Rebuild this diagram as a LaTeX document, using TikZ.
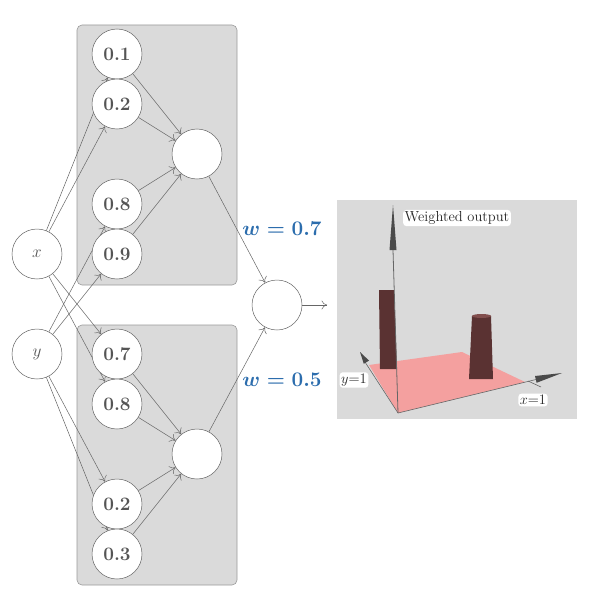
\documentclass[tikz,border=0pt]{standalone}
\usepackage{amsmath,amsfonts,amssymb}
\usepackage{tikz}
\usetikzlibrary{arrows.meta,positioning}

\definecolor{boxgray}{HTML}{DADADA}
\definecolor{edgegray}{HTML}{9A9A9A}
\definecolor{linegray}{HTML}{666666}
\definecolor{textgray}{HTML}{555555}
\definecolor{wblue}{HTML}{2C6DAD}
\definecolor{floorred}{HTML}{F4A09F}
\definecolor{barbrown}{HTML}{5A3232}
\definecolor{conegray}{HTML}{4A4A4A}

\pgfdeclarelayer{back}
\pgfdeclarelayer{wires}
\pgfsetlayers{back,wires,main}

\begin{document}
\begin{tikzpicture}[
  x=1pt, y=-1pt,
  neuron/.style={draw=linegray, circle, fill=white, minimum size=50pt, inner sep=0pt, line width=0.5pt, text=textgray, font=\fontsize{19}{22}\selectfont\bfseries},
  wire/.style={draw=linegray, line width=0.5pt, -{To[length=5.5pt,width=9pt]}},
  tower/.style={draw=edgegray, fill=boxgray, rounded corners=5pt, line width=0.6pt},
  weight/.style={text=wblue, font=\fontsize{21.5}{24}\selectfont\boldmath},
  tag/.style={fill=white, rounded corners=3pt, inner sep=1.5pt, text=black!85, font=\fontsize{14.5}{16}\selectfont}
]
\useasboundingbox (0,0) rectangle (599,610);

% inputs
\node[neuron, font=\fontsize{19}{22}\selectfont] (x) at (37,254) {$x$};
\node[neuron, font=\fontsize{19}{22}\selectfont] (y) at (37,354) {$y$};

% upper tower
\node[neuron] (t1) at (117,54) {0.1};
\node[neuron] (t2) at (117,104) {0.2};
\node[neuron] (t3) at (117,204) {0.8};
\node[neuron] (t4) at (117,254) {0.9};
\node[neuron] (ts) at (197,154) {};

% lower tower
\node[neuron] (b1) at (117,354) {0.7};
\node[neuron] (b2) at (117,404) {0.8};
\node[neuron] (b3) at (117,504) {0.2};
\node[neuron] (b4) at (117,554) {0.3};
\node[neuron] (bs) at (197,454) {};

% output
\node[neuron] (out) at (277,305) {};
\coordinate (outend) at (327,305);

\node[weight] (w1) at (282,229) {$w = 0.7$};
\node[weight] (w2) at (282,380) {$w = 0.5$};

\begin{pgfonlayer}{back}
\draw[tower] (77,25) rectangle (237,285);
\draw[tower] (77,325) rectangle (237,585);
\end{pgfonlayer}

\begin{pgfonlayer}{wires}
\foreach \n in {t1,t2,b1,b2} \draw[wire] (x) -- (\n);
\foreach \n in {t3,t4,b3,b4} \draw[wire] (y) -- (\n);
\foreach \n in {t1,t2,t3,t4} \draw[wire] (\n) -- (ts);
\foreach \n in {b1,b2,b3,b4} \draw[wire] (\n) -- (bs);
\draw[wire] (ts) -- (out);
\draw[wire] (bs) -- (out);
\draw[wire] (out) -- (outend);
\end{pgfonlayer}

% plot of the weighted output
\fill[boxgray] (337,200) rectangle (577,419);
\fill[floorred] (369,365) -- (462,352) -- (525,382) -- (398,413) -- cycle;
\draw[linegray, line width=0.6pt] (398,413) -- (365,362);
\fill[conegray] (360,352) -- (369,360.6) -- (363.8,363.8) -- cycle;
\fill[barbrown] (379,290) -- (394,290) -- (397,369) -- (380,369) -- cycle;
\draw[linegray, line width=0.8pt] (398,413) -- (393,250);
\fill[conegray] (393,205) -- (396.5,250) -- (389.5,250) -- cycle;
\fill[barbrown] (472,316) -- (491,316) -- (493,379) -- (469,379) -- cycle;
\fill[barbrown!75!floorred] (481.5,316) ellipse (9.5 and 2);
\draw[linegray, line width=0.6pt] (398,413) -- (536,379.5);
\draw[linegray, line width=0.6pt] (528,381) -- (541,387);
\fill[conegray] (562,373) -- (536.6,382.8) -- (535,376) -- cycle;

\node[tag] (wlabel) at (457,218) {Weighted output};
\node[tag] (ylabel) at (354,380) {$y$=1};
\node[tag] (xlabel) at (533,400) {$x$=1};
\end{tikzpicture}
\end{document}
